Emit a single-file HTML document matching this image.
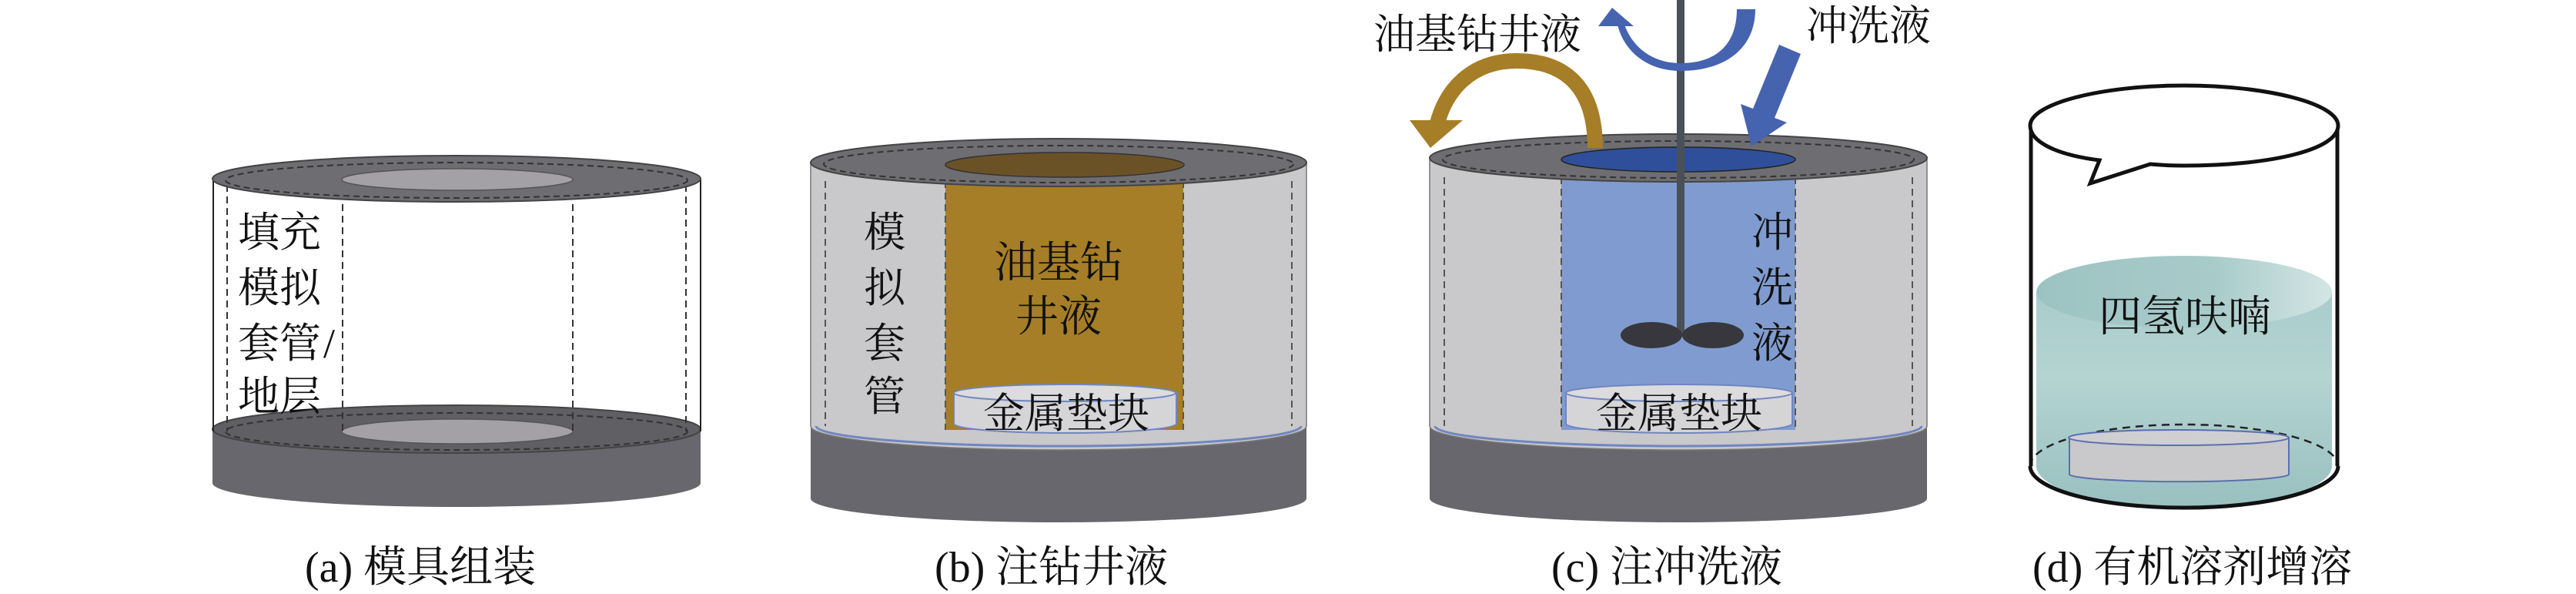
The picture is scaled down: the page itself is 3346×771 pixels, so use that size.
<!DOCTYPE html>
<html><head><meta charset="utf-8"><style>
html,body{margin:0;padding:0;background:#fff;}
svg{display:block}
text{font-family:"Liberation Serif","Noto Serif CJK SC",serif;fill:#111;}
</style></head><body>
<svg width="3346" height="771" viewBox="0 0 3346 771" xmlns="http://www.w3.org/2000/svg">
<defs>
<linearGradient id="liq" x1="0" y1="0" x2="0" y2="1">
<stop offset="0" stop-color="#a9cccb"/><stop offset="0.4" stop-color="#b4d4d2"/><stop offset="1" stop-color="#98c0bf"/>
</linearGradient>
<linearGradient id="liqtop" x1="0" y1="0" x2="1" y2="0">
<stop offset="0" stop-color="#9cc3c2"/><stop offset="0.6" stop-color="#a8cbca"/><stop offset="1" stop-color="#d3e6e4"/>
</linearGradient>
</defs>

<!-- ===== Panel a ===== -->
<g>
<!-- base -->
<path d="M276,557 L276,627 A317,31 0 0 0 910,627 L910,557 Z" fill="#68676d"/>
<ellipse cx="593" cy="557" rx="317" ry="31" fill="#5f5f64" stroke="#444" stroke-width="2"/>
<ellipse cx="593" cy="560" rx="300" ry="24" fill="none" stroke="#333" stroke-width="2" stroke-dasharray="8,5"/>
<ellipse cx="594" cy="560" rx="150" ry="16" fill="#a4a1a6" stroke="#555" stroke-width="1.5"/>
<!-- walls -->
<line x1="277" y1="232" x2="277" y2="560" stroke="#222" stroke-width="2"/>
<line x1="910" y1="232" x2="910" y2="560" stroke="#222" stroke-width="2"/>
<line x1="295" y1="240" x2="295" y2="560" stroke="#333" stroke-width="2" stroke-dasharray="9,6"/>
<line x1="891" y1="240" x2="891" y2="560" stroke="#333" stroke-width="2" stroke-dasharray="9,6"/>
<line x1="445" y1="235" x2="445" y2="560" stroke="#333" stroke-width="2" stroke-dasharray="9,6"/>
<line x1="744" y1="235" x2="744" y2="560" stroke="#333" stroke-width="2" stroke-dasharray="9,6"/>
<!-- top rim -->
<ellipse cx="593" cy="232" rx="317" ry="30" fill="#6d6d72" stroke="#444" stroke-width="2"/>
<ellipse cx="593" cy="234" rx="300" ry="23" fill="none" stroke="#333" stroke-width="2" stroke-dasharray="8,5"/>
<ellipse cx="594" cy="233" rx="150" ry="14" fill="#a4a1a6" stroke="#555" stroke-width="1.5"/>
<text x="309" y="320" font-size="54">填充</text>
<text x="309" y="392" font-size="54">模拟</text>
<text x="309" y="464" font-size="54">套管</text>
<text x="420" y="464" font-size="54">/</text>
<text x="309" y="533" font-size="54">地层</text>
<text x="396" y="755" font-size="56">(a) 模具组装</text>
</g>

<!-- ===== Panel b ===== -->
<g>
<path d="M1053,553 L1053,647 A322,31 0 0 0 1697,647 L1697,553 Z" fill="#68676d"/>
<ellipse cx="1375" cy="553" rx="322" ry="31" fill="#606065"/>
<path d="M1053,211 L1053,553 A322,31 0 0 0 1697,553 L1697,211 Z" fill="#c9c8ca" stroke="#777" stroke-width="1.5"/>
<path d="M1060,553 A315,26 0 0 0 1690,553" fill="none" stroke="#6f86c0" stroke-width="3"/>
<rect x="1228" y="225" width="309" height="333" fill="#a67e27"/>
<line x1="1072" y1="235" x2="1072" y2="553" stroke="#555" stroke-width="2" stroke-dasharray="9,6"/>
<line x1="1678" y1="235" x2="1678" y2="553" stroke="#555" stroke-width="2" stroke-dasharray="9,6"/>
<line x1="1228" y1="235" x2="1228" y2="558" stroke="#555" stroke-width="2" stroke-dasharray="9,6"/>
<line x1="1537" y1="235" x2="1537" y2="558" stroke="#555" stroke-width="2" stroke-dasharray="9,6"/>
<!-- disc -->
<path d="M1239,510 L1239,550 A144,12 0 0 0 1528,550 L1528,510 Z" fill="#d5d4d7" stroke="#6f86c0" stroke-width="2"/>
<ellipse cx="1383" cy="510" rx="144" ry="11" fill="#dcdbde" stroke="#6f86c0" stroke-width="2"/>
<ellipse cx="1375" cy="211" rx="322" ry="31" fill="#6d6d72" stroke="#444" stroke-width="2"/>
<ellipse cx="1375" cy="213" rx="305" ry="24" fill="none" stroke="#333" stroke-width="2" stroke-dasharray="8,5"/>
<ellipse cx="1383" cy="214" rx="155" ry="16" fill="#6b5226" stroke="#333" stroke-width="1.5"/>
<text x="1122" y="320" font-size="54">模</text>
<text x="1122" y="392" font-size="54">拟</text>
<text x="1122" y="464" font-size="54">套</text>
<text x="1122" y="533" font-size="54">管</text>
<text x="1375" y="360" font-size="56" text-anchor="middle">油基钻</text>
<text x="1375" y="430" font-size="56" text-anchor="middle">井液</text>
<text x="1385" y="555" font-size="54" text-anchor="middle">金属垫块</text>
<text x="1214" y="755" font-size="56">(b) 注钻井液</text>
</g>

<!-- ===== Panel c ===== -->
<g>
<path d="M1857,553 L1857,647 A323,31 0 0 0 2503,647 L2503,553 Z" fill="#68676d"/>
<ellipse cx="2180" cy="553" rx="323" ry="31" fill="#606065"/>
<path d="M1857,205 L1857,553 A323,31 0 0 0 2503,553 L2503,205 Z" fill="#c9c8ca" stroke="#777" stroke-width="1.5"/>
<path d="M1864,553 A316,26 0 0 0 2496,553" fill="none" stroke="#6f86c0" stroke-width="3"/>
<rect x="2028" y="215" width="304" height="343" fill="#809bcf"/>
<line x1="1876" y1="230" x2="1876" y2="553" stroke="#555" stroke-width="2" stroke-dasharray="9,6"/>
<line x1="2484" y1="230" x2="2484" y2="553" stroke="#555" stroke-width="2" stroke-dasharray="9,6"/>
<line x1="2028" y1="230" x2="2028" y2="558" stroke="#555" stroke-width="2" stroke-dasharray="9,6"/>
<line x1="2332" y1="230" x2="2332" y2="558" stroke="#555" stroke-width="2" stroke-dasharray="9,6"/>
<path d="M2034,510 L2034,550 A147,12 0 0 0 2328,550 L2328,510 Z" fill="#d5d4d7" stroke="#6f86c0" stroke-width="2"/>
<ellipse cx="2181" cy="510" rx="147" ry="11" fill="#dcdbde" stroke="#6f86c0" stroke-width="2"/>
<ellipse cx="2180" cy="205" rx="323" ry="31" fill="#6d6d72" stroke="#444" stroke-width="2"/>
<ellipse cx="2180" cy="207" rx="306" ry="24" fill="none" stroke="#333" stroke-width="2" stroke-dasharray="8,5"/>
<ellipse cx="2180" cy="207" rx="152" ry="16" fill="#2f4f9a" stroke="#222" stroke-width="1.5"/>
<!-- stirrer -->
<rect x="2178" y="0" width="10" height="437" fill="#4a5057"/>
<ellipse cx="2145" cy="435" rx="40" ry="17" fill="#37373d"/>
<ellipse cx="2225" cy="435" rx="40" ry="17" fill="#37373d"/>
<text x="2302" y="320" font-size="54" text-anchor="middle">冲</text>
<text x="2302" y="392" font-size="54" text-anchor="middle">洗</text>
<text x="2302" y="464" font-size="54" text-anchor="middle">液</text>
<text x="2181" y="555" font-size="54" text-anchor="middle">金属垫块</text>
<!-- gold arrow -->
<path d="M2072,192 C2072,110 2030,79 1970,79 C1910,79 1878,118 1867,160" fill="none" stroke="#a67e27" stroke-width="20"/>
<polygon points="1831,156 1900,156 1858,192" fill="#a67e27"/>
<!-- blue U arrow -->
<path d="M2256,12 L2280,12 C2280,62 2242,92 2183,92 C2135,92 2108,62 2101,32 L2110,32 C2120,60 2145,82 2183,82 C2232,82 2256,55 2256,12 Z" fill="#4663b0"/>
<polygon points="2094,10 2076,34 2122,34" fill="#4663b0"/>
<!-- blue straight arrow -->
<polygon points="2339,70 2305,153 2321,159 2275,190 2261,135 2277,141 2311,58" fill="#4663b0"/>
<text x="1784" y="63" font-size="54">油基钻井液</text>
<text x="2346" y="52" font-size="54">冲洗液</text>
<text x="2015" y="755" font-size="56">(c) 注冲洗液</text>
</g>

<!-- ===== Panel d ===== -->
<g>
<path d="M2645,379 L2645,605 A192,54 0 0 0 3029,605 L3029,379 Z" fill="url(#liq)"/>
<ellipse cx="2837" cy="379" rx="192" ry="47" fill="url(#liqtop)"/>
<path d="M2637,605 A200,54 0 0 1 3037,605" fill="none" stroke="#222" stroke-width="2.5" stroke-dasharray="10,7"/>
<path d="M2688,568 L2688,616 A143,10 0 0 0 2973,616 L2973,568 Z" fill="#c9c8ca" stroke="#5a6fb0" stroke-width="2"/>
<ellipse cx="2830" cy="568" rx="143" ry="10" fill="#cfcfd2" stroke="#5a6fb0" stroke-width="2"/>
<path d="M2637,605 A200,54 0 0 0 3037,605" fill="none" stroke="#111" stroke-width="5"/>
<line x1="2638" y1="165" x2="2638" y2="605" stroke="#111" stroke-width="5"/>
<line x1="3036" y1="165" x2="3036" y2="605" stroke="#111" stroke-width="5"/>
<path d="M2727,208 C2665,200 2637,182 2637,163 C2637,135 2727,111 2837,111 C2947,111 3037,135 3037,163 C3037,195 2947,215 2837,215 C2815,215 2805,214 2793,213 L2715,238 Z" fill="#fff" stroke="#111" stroke-width="5" stroke-linejoin="miter"/>
<text x="2838" y="430" font-size="56" text-anchor="middle">四氢呋喃</text>
<text x="2640" y="755" font-size="56">(d) 有机溶剂增溶</text>
</g>
</svg>
</body></html>
